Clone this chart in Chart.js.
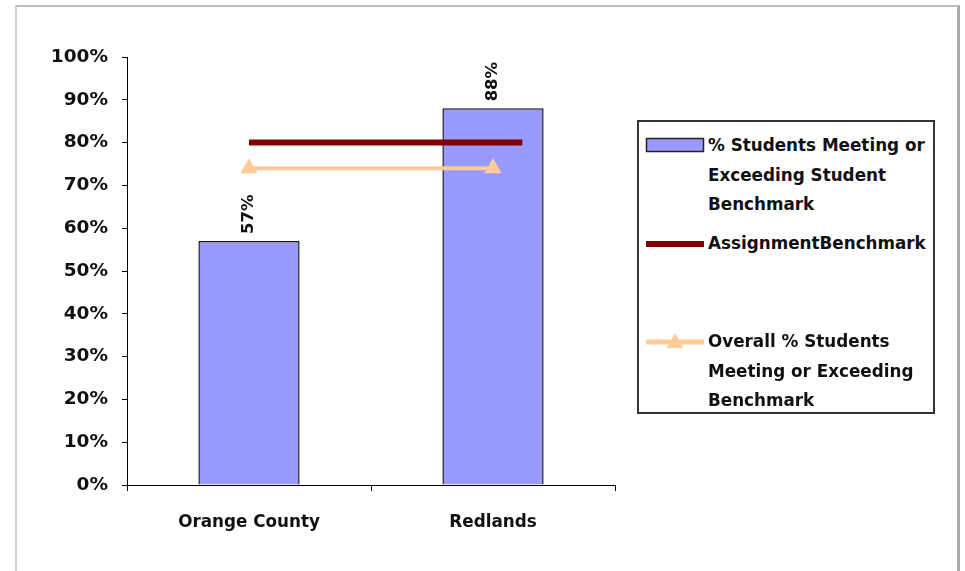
<!DOCTYPE html>
<html>
<head>
<meta charset="utf-8">
<script src="https://cdn.jsdelivr.net/npm/chart.js@4.4.1/dist/chart.umd.min.js"></script>
<style>
  html, body { margin: 0; padding: 0; background: #fff; width: 965px; height: 571px; overflow: hidden; }
  #frame { position: absolute; left: 15px; top: 5px; width: 940px; height: 600px;
           border-left: 2px solid #cfcfcf; border-top: 2px solid #bdbdbd; border-right: 3px solid #aaaaaa; }
  #c { position: absolute; left: 0; top: 0; }
  #legend { position: absolute; left: 637px; top: 120px; width: 298px; height: 294px;
            border: 2px solid #333; background: #fff; box-sizing: border-box;
            font-family: "DejaVu Sans", sans-serif; font-weight: bold; font-size: 16.8px; color: #111; }
  .item { position: absolute; left: 6px; height: 98px; width: 290px; }
  .sw { position: absolute; left: 0; top: 0; width: 60px; height: 30px; }
  .txt { position: absolute; left: 63px; top: 0; width: 226px; line-height: 29.7px; }
</style>
</head>
<body>
<div id="frame"></div>
<canvas id="c" width="965" height="571"></canvas>
<div id="legend"></div>
<script>
// ---- data ----
const categories = ['Orange County', 'Redlands'];
const studentPct = [57, 88];
const overallPct = [74, 74];
const benchmarkPct = [80, 80];
const benchmarkX = [0, 1.12];
const yTickValues = [0, 10, 20, 30, 40, 50, 60, 70, 80, 90, 100];

const seriesLabels = [
  '% Students Meeting or Exceeding Student Benchmark',
  'AssignmentBenchmark',
  'Overall % Students Meeting or Exceeding Benchmark'
];

const FONT = '"DejaVu Sans", sans-serif';
const TXT = '#111';

const barLabelPlugin = {
  id: 'barLabels',
  afterDatasetsDraw(chart) {
    const ctx = chart.ctx;
    const meta = chart.getDatasetMeta(0);
    ctx.save();
    ctx.font = 'bold 16.5px ' + FONT;
    ctx.fillStyle = TXT;
    ctx.textAlign = 'left';
    ctx.textBaseline = 'middle';
    meta.data.forEach((el, i) => {
      ctx.save();
      ctx.translate(el.x, el.y - 7);
      ctx.rotate(-Math.PI / 2);
      ctx.fillText(studentPct[i] + '%', 0, 0);
      ctx.restore();
    });
    ctx.restore();
  }
};

const chart = new Chart(document.getElementById('c'), {
  type: 'bar',
  data: {
    labels: categories,
    datasets: [
      {
        type: 'bar', label: seriesLabels[0], data: studentPct,
        backgroundColor: '#9999ff', borderColor: '#1a1a1a', borderWidth: 1.5,
        grouped: false, barPercentage: 0.415, categoryPercentage: 1, order: 3, xAxisID: 'x'
      },
      {
        type: 'line', label: seriesLabels[1],
        data: benchmarkX.map((x, i) => ({ x: x, y: benchmarkPct[i] })),
        borderColor: '#800000', backgroundColor: '#800000', borderWidth: 6,
        pointRadius: 0, fill: false, tension: 0, order: 2, xAxisID: 'x2'
      },
      {
        type: 'line', label: seriesLabels[2], data: overallPct,
        borderColor: '#ffcc99', backgroundColor: '#ffcc99', borderWidth: 4,
        pointStyle: 'triangle', pointRadius: 10, pointBorderWidth: 0,
        fill: false, tension: 0, order: 1, xAxisID: 'x'
      }
    ]
  },
  options: {
    responsive: false,
    animation: false,
    events: [],
    layout: { padding: { left: 0, right: 350, top: 57, bottom: 0 } },
    plugins: { legend: { display: false }, tooltip: { enabled: false } },
    scales: {
      x: {
        type: 'category', offset: true,
        grid: { offset: true, drawOnChartArea: false, drawTicks: true, tickLength: 6, color: '#000', lineWidth: 1 },
        border: { display: true, color: '#000', width: 1 },
        ticks: { font: { family: FONT, weight: 'bold', size: 16.8 }, color: TXT, padding: 22, maxRotation: 0 },
        afterFit(s) { s.height = 86; }
      },
      x2: { type: 'linear', min: -0.5, max: 1.5, offset: false, display: false },
      y: {
        min: 0, max: 100,
        afterBuildTicks(s) { s.ticks = yTickValues.map(v => ({ value: v })); },
        grid: { drawOnChartArea: false, drawTicks: true, tickLength: 5, color: '#000', lineWidth: 1 },
        border: { display: true, color: '#000', width: 1 },
        ticks: { font: { family: FONT, weight: 'bold', size: 18.5 }, color: TXT, padding: 14,
                 callback: v => v + '%' },
        afterFit(s) { s.width = 127; }
      }
    }
  },
  plugins: [barLabelPlugin]
});

// ---- HTML legend built from datasets ----
const legend = document.getElementById('legend');
chart.data.datasets.forEach((ds, i) => {
  const item = document.createElement('div');
  item.className = 'item';
  item.style.top = (9 + i * 98) + 'px';
  let sw;
  if (ds.type === 'bar') {
    sw = `<svg class="sw" width="60" height="30"><rect x="1.5" y="7.5" width="57" height="13" fill="${ds.backgroundColor}" stroke="#222" stroke-width="1.5"/></svg>`;
  } else if (ds.pointStyle === 'triangle') {
    sw = `<svg class="sw" width="60" height="30"><line x1="1" y1="15" x2="59" y2="15" stroke="${ds.borderColor}" stroke-width="5"/><polygon points="30,6 38.5,21 21.5,21" fill="${ds.borderColor}"/></svg>`;
  } else {
    sw = `<svg class="sw" width="60" height="30"><line x1="1" y1="15" x2="59" y2="15" stroke="${ds.borderColor}" stroke-width="6"/></svg>`;
  }
  item.innerHTML = sw + `<div class="txt">${ds.label}</div>`;
  legend.appendChild(item);
});
</script>
</body>
</html>
